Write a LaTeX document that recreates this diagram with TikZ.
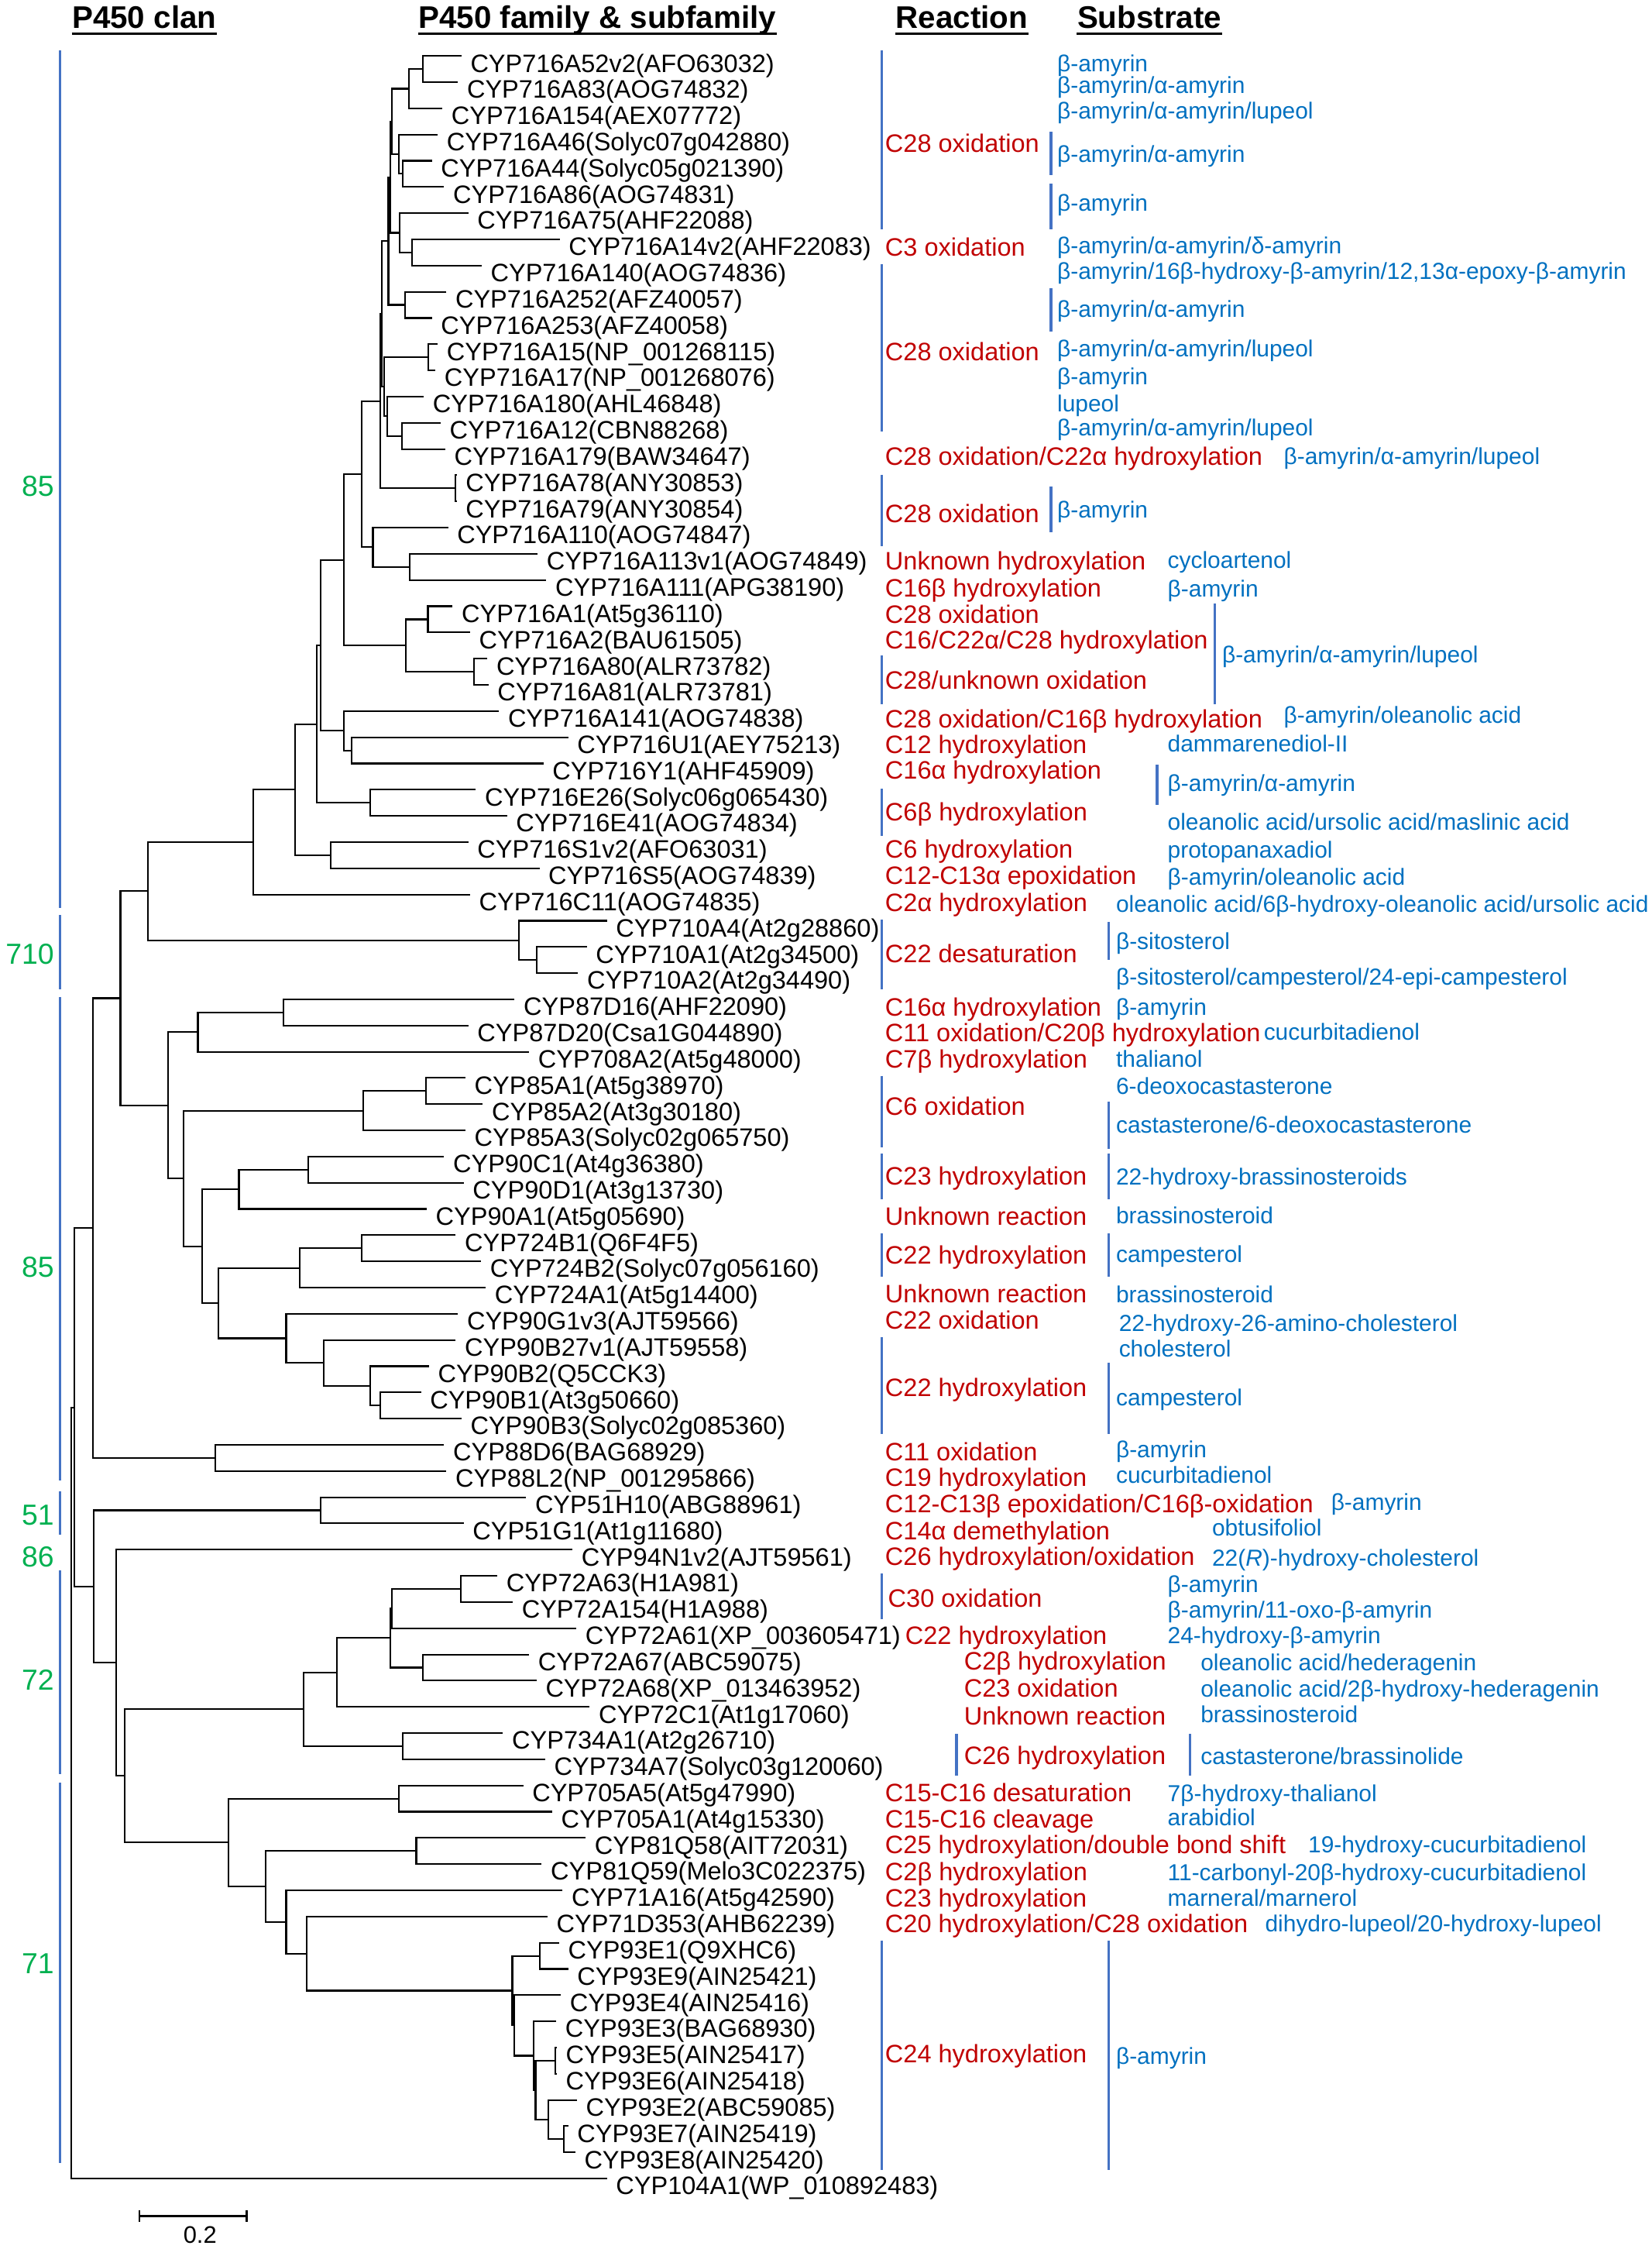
\documentclass[tikz,border=0pt]{standalone}
\usepackage{fontspec}
\setmainfont{Liberation Sans}
\usetikzlibrary{calc}

\definecolor{reactred}{RGB}{192,0,0}
\definecolor{subblue}{RGB}{0,112,192}
\definecolor{clangreen}{RGB}{0,176,80}
\definecolor{barblue}{RGB}{68,114,196}

\tikzset{
  branch/.style={line width=0.65pt,black},
  seq/.style={anchor=base west,inner sep=0pt,xshift=3.4pt,yshift=-6.4pt,font=\fontsize{10}{12}\selectfont},
  react/.style={anchor=base west,inner sep=0pt,yshift=-3.6pt,text=reactred,font=\fontsize{10}{12}\selectfont},
  subst/.style={anchor=base west,inner sep=0pt,yshift=-3.4pt,text=subblue,font=\fontsize{9.2}{11}\selectfont},
  bar/.style={line width=1pt,barblue},
  clan/.style={anchor=base east,inner sep=0pt,yshift=-4.1pt,text=clangreen,font=\fontsize{11.5}{13}\selectfont},
  header/.style={anchor=base west,inner sep=0pt,font=\bfseries\fontsize{12.4}{14}\selectfont},
}

\newcommand{\seqleaf}[3]{\coordinate (t#1) at (#2,{39+(#1-1)*18.27}); \node[seq] (s#1) at (t#1) {#3};}
\newcommand{\treeclade}[4]{\coordinate (#1m) at ($(#3)!0.5!(#4)$); \coordinate (#1) at (#2,0 |- #1m); \draw[branch] (#3) -| (#1) |- (#4);}

\begin{document}
\begin{tikzpicture}[x=0.02cm,y=-0.02cm]
\useasboundingbox (0,0) rectangle (1152,1568);

\node[header] (h1) at (50,19.8) {P450 clan};
\node[header] (h2) at (291.5,19.8) {P450 family \& subfamily};
\node[header] (h3) at (624.5,19.8) {Reaction};
\node[header] (h4) at (751,19.8) {Substrate};
\foreach \h in {h1,h2,h3,h4}
  \draw[line width=1pt] ([yshift=-2pt]\h.base west) -- ([yshift=-2pt]\h.base east);

\seqleaf{1}{321.8}{CYP716A52v2(AFO63032)}
\seqleaf{2}{319.4}{CYP716A83(AOG74832)}
\seqleaf{3}{308.5}{CYP716A154(AEX07772)}
\seqleaf{4}{305.3}{CYP716A46(Solyc07g042880)}
\seqleaf{5}{301.2}{CYP716A44(Solyc05g021390)}
\seqleaf{6}{309.7}{CYP716A86(AOG74831)}
\seqleaf{7}{326.6}{CYP716A75(AHF22088)}
\seqleaf{8}{390.3}{CYP716A14v2(AHF22083)}
\seqleaf{9}{335.9}{CYP716A140(AOG74836)}
\seqleaf{10}{311.3}{CYP716A252(AFZ40057)}
\seqleaf{11}{301.2}{CYP716A253(AFZ40058)}
\seqleaf{12}{305.3}{CYP716A15(NP\_001268115)}
\seqleaf{13}{303.7}{CYP716A17(NP\_001268076)}
\seqleaf{14}{295.6}{CYP716A180(AHL46848)}
\seqleaf{15}{307.3}{CYP716A12(CBN88268)}
\seqleaf{16}{310.5}{CYP716A179(BAW34647)}
\seqleaf{17}{318.5}{CYP716A78(ANY30853)}
\seqleaf{18}{318.5}{CYP716A79(ANY30854)}
\seqleaf{19}{312.5}{CYP716A110(AOG74847)}
\seqleaf{20}{375}{CYP716A113v1(AOG74849)}
\seqleaf{21}{381}{CYP716A111(APG38190)}
\seqleaf{22}{315.7}{CYP716A1(At5g36110)}
\seqleaf{23}{327.8}{CYP716A2(BAU61505)}
\seqleaf{24}{339.9}{CYP716A80(ALR73782)}
\seqleaf{25}{340.7}{CYP716A81(ALR73781)}
\seqleaf{26}{348}{CYP716A141(AOG74838)}
\seqleaf{27}{396.3}{CYP716U1(AEY75213)}
\seqleaf{28}{379}{CYP716Y1(AHF45909)}
\seqleaf{29}{331.9}{CYP716E26(Solyc06g065430)}
\seqleaf{30}{353.6}{CYP716E41(AOG74834)}
\seqleaf{31}{326.6}{CYP716S1v2(AFO63031)}
\seqleaf{32}{376.2}{CYP716S5(AOG74839)}
\seqleaf{33}{327.8}{CYP716C11(AOG74835)}
\seqleaf{34}{423.3}{CYP710A4(At2g28860)}
\seqleaf{35}{409.2}{CYP710A1(At2g34500)}
\seqleaf{36}{403.2}{CYP710A2(At2g34490)}
\seqleaf{37}{358.9}{CYP87D16(AHF22090)}
\seqleaf{38}{326.6}{CYP87D20(Csa1G044890)}
\seqleaf{39}{369}{CYP708A2(At5g48000)}
\seqleaf{40}{324.6}{CYP85A1(At5g38970)}
\seqleaf{41}{336.7}{CYP85A2(At3g30180)}
\seqleaf{42}{324.6}{CYP85A3(Solyc02g065750)}
\seqleaf{43}{309.7}{CYP90C1(At4g36380)}
\seqleaf{44}{323.4}{CYP90D1(At3g13730)}
\seqleaf{45}{297.6}{CYP90A1(At5g05690)}
\seqleaf{46}{317.8}{CYP724B1(Q6F4F5)}
\seqleaf{47}{335.5}{CYP724B2(Solyc07g056160)}
\seqleaf{48}{338.7}{CYP724A1(At5g14400)}
\seqleaf{49}{319.4}{CYP90G1v3(AJT59566)}
\seqleaf{50}{317.8}{CYP90B27v1(AJT59558)}
\seqleaf{51}{299.2}{CYP90B2(Q5CCK3)}
\seqleaf{52}{293.6}{CYP90B1(At3g50660)}
\seqleaf{53}{321.8}{CYP90B3(Solyc02g085360)}
\seqleaf{54}{309.7}{CYP88D6(BAG68929)}
\seqleaf{55}{311.3}{CYP88L2(NP\_001295866)}
\seqleaf{56}{366.9}{CYP51H10(ABG88961)}
\seqleaf{57}{323.4}{CYP51G1(At1g11680)}
\seqleaf{58}{399.2}{CYP94N1v2(AJT59561)}
\seqleaf{59}{346.8}{CYP72A63(H1A981)}
\seqleaf{60}{357.6}{CYP72A154(H1A988)}
\seqleaf{61}{402}{CYP72A61(XP\_003605471)}
\seqleaf{62}{369}{CYP72A67(ABC59075)}
\seqleaf{63}{374.2}{CYP72A68(XP\_013463952)}
\seqleaf{64}{411.2}{CYP72C1(At1g17060)}
\seqleaf{65}{350.8}{CYP734A1(At2g26710)}
\seqleaf{66}{380.2}{CYP734A7(Solyc03g120060)}
\seqleaf{67}{364.9}{CYP705A5(At5g47990)}
\seqleaf{68}{385.1}{CYP705A1(At4g15330)}
\seqleaf{69}{408.4}{CYP81Q58(AIT72031)}
\seqleaf{70}{377.8}{CYP81Q59(Melo3C022375)}
\seqleaf{71}{392.3}{CYP71A16(At5g42590)}
\seqleaf{72}{381.8}{CYP71D353(AHB62239)}
\seqleaf{73}{389.9}{CYP93E1(Q9XHC6)}
\seqleaf{74}{396.3}{CYP93E9(AIN25421)}
\seqleaf{75}{391.1}{CYP93E4(AIN25416)}
\seqleaf{76}{387.9}{CYP93E3(BAG68930)}
\seqleaf{77}{388.3}{CYP93E5(AIN25417)}
\seqleaf{78}{388.3}{CYP93E6(AIN25418)}
\seqleaf{79}{402.4}{CYP93E2(ABC59085)}
\seqleaf{80}{396.3}{CYP93E7(AIN25419)}
\seqleaf{81}{401.2}{CYP93E8(AIN25420)}
\seqleaf{82}{423.3}{CYP104A1(WP\_010892483)}

\treeclade{nA}{295.1}{t1}{t2}
\treeclade{nB}{285.3}{nA}{t3}
\treeclade{nC}{280.8}{t5}{t6}
\treeclade{nD}{278.1}{t4}{nC}
\treeclade{nEa}{273.3}{nB}{nD}
\treeclade{nFa}{287.5}{t8}{t9}
\treeclade{nF}{278.7}{t7}{nFa}
\treeclade{nEb}{272.2}{nEa}{nF}
\treeclade{nG}{282.6}{t10}{t11}
\treeclade{nE}{270.9}{nEb}{nG}
\treeclade{nIa}{298.5}{t12}{t13}
\treeclade{nHa}{280.2}{t15}{t16}
\treeclade{nH}{270.2}{t14}{nHa}
\treeclade{nI}{267.9}{nIa}{nH}
\treeclade{nJa}{266.1}{nE}{nI}
\treeclade{nK}{317.5}{t17}{t18}
\treeclade{nJ}{265.3}{nJa}{nK}
\treeclade{nN}{285.5}{t20}{t21}
\treeclade{nM}{260.1}{t19}{nN}
\treeclade{nL}{252.0}{nJ}{nM}
\treeclade{nP}{298.4}{t22}{t23}
\treeclade{nQ}{330.6}{t24}{t25}
\treeclade{nO}{283.1}{nP}{nQ}
\treeclade{nR}{240.0}{nL}{nO}
\treeclade{nT}{245.2}{t27}{t28}
\treeclade{nS}{240.0}{t26}{nT}
\treeclade{nUa}{223.8}{nR}{nS}
\treeclade{nV}{258.1}{t29}{t30}
\treeclade{nU}{221.0}{nUa}{nV}
\treeclade{nX}{230.7}{t31}{t32}
\treeclade{nW}{205.7}{nU}{nX}
\treeclade{nY}{176.7}{nW}{t33}
\treeclade{nAB}{374.1}{t35}{t36}
\treeclade{nAA}{362.0}{t34}{nAB}
\treeclade{nZ}{103.3}{nY}{nAA}
\treeclade{nAG}{197.6}{t37}{t38}
\treeclade{nAE}{138.0}{nAG}{t39}
\treeclade{nAJ}{297.2}{t40}{t41}
\treeclade{nAH}{253.2}{nAJ}{t42}
\treeclade{nAM}{215.0}{t43}{t44}
\treeclade{nAK}{166.6}{nAM}{t45}
\treeclade{nAP}{252.0}{t46}{t47}
\treeclade{nAN}{208.9}{nAP}{t48}
\treeclade{nAS}{265.3}{t52}{t53}
\treeclade{nAR}{258.1}{t51}{nAS}
\treeclade{nAQ}{225.8}{t50}{nAR}
\treeclade{nAO}{199.6}{t49}{nAQ}
\treeclade{nAL}{152.5}{nAN}{nAO}
\treeclade{nAI}{141.2}{nAK}{nAL}
\treeclade{nAF}{127.9}{nAH}{nAI}
\treeclade{nAD}{117.0}{nAE}{nAF}
\treeclade{nAC}{84.0}{nZ}{nAD}
\treeclade{nBB}{150.1}{t54}{t55}
\treeclade{nBA}{64.6}{nAC}{nBB}
\treeclade{nBE}{223.8}{t56}{t57}
\treeclade{nBM}{321.3}{t59}{t60}
\treeclade{nBLa}{273.4}{nBM}{t61}
\treeclade{nBN}{295.1}{t62}{t63}
\treeclade{nBL}{272.2}{nBLa}{nBN}
\treeclade{nBJ}{235.1}{nBL}{t64}
\treeclade{nBK}{281.0}{t65}{t66}
\treeclade{nBH}{211.7}{nBJ}{nBK}
\treeclade{nBO}{278.2}{t67}{t68}
\treeclade{nBQ}{290.3}{t69}{t70}
\treeclade{nBU}{376.3}{t73}{t74}
\treeclade{nBY}{387.5}{t77}{t78}
\treeclade{nBZ}{393.4}{t80}{t81}
\treeclade{nBX}{382.6}{t79}{nBZ}
\treeclade{nBVa}{373.5}{nBY}{nBX}
\treeclade{nBV}{372.3}{t76}{nBVa}
\treeclade{nBTa}{358.6}{t75}{nBV}
\treeclade{nBT}{357.3}{nBU}{nBTa}
\treeclade{nBS}{213.7}{t72}{nBT}
\treeclade{nBR}{199.6}{t71}{nBS}
\treeclade{nBP}{185.5}{nBQ}{nBR}
\treeclade{nBI}{159.3}{nBO}{nBP}
\treeclade{nBG}{86.8}{nBH}{nBI}
\treeclade{nBF}{80.8}{t58}{nBG}
\treeclade{nBD}{65.4}{nBE}{nBF}
\treeclade{nBC}{52.0}{nBA}{nBD}
\treeclade{root}{49.7}{nBC}{t82}

\draw[bar] (42,35) -- (42,633);
\draw[bar] (42,638) -- (42,690);
\draw[bar] (42,695) -- (42,1032);
\draw[bar] (42,1040) -- (42,1070);
\draw[bar] (42,1095) -- (42,1237);
\draw[bar] (42,1243) -- (42,1508);
\node[clan] (c1) at (38,339) {85};
\node[clan] (c2) at (38,665) {710};
\node[clan] (c3) at (38,883) {85};
\node[clan] (c4) at (38,1056) {51};
\node[clan] (c5) at (38,1085) {86};
\node[clan] (c6) at (38,1171) {72};
\node[clan] (c7) at (38,1369) {71};

\draw[bar] (615,35) -- (615,160);
\draw[bar] (615,184) -- (615,301);
\draw[bar] (615,331) -- (615,381);
\draw[bar] (615,457) -- (615,491);
\draw[bar] (615,550) -- (615,583);
\draw[bar] (615,641) -- (615,690);
\draw[bar] (615,750) -- (615,800);
\draw[bar] (615,804) -- (615,836);
\draw[bar] (615,860) -- (615,890);
\draw[bar] (615,932) -- (615,1000);
\draw[bar] (615,1097) -- (615,1129);
\draw[bar] (667,1209) -- (667,1238);
\draw[bar] (615,1353) -- (615,1513);

\node[react] (r1) at (617,100) {C28 oxidation};
\node[react] (r2) at (617,172) {C3 oxidation};
\node[react] (r3) at (617,245) {C28 oxidation};
\node[react] (r4) at (617,318) {C28 oxidation/C22α hydroxylation};
\node[react] (r5) at (617,358) {C28 oxidation};
\node[react] (r6) at (617,391) {Unknown hydroxylation};
\node[react] (r7) at (617,410) {C16β hydroxylation};
\node[react] (r8) at (617,428) {C28 oxidation};
\node[react] (r9) at (617,446) {C16/C22α/C28 hydroxylation};
\node[react] (r10) at (617,474) {C28/unknown oxidation};
\node[react] (r11) at (617,501) {C28 oxidation/C16β hydroxylation};
\node[react] (r12) at (617,519) {C12 hydroxylation};
\node[react] (r13) at (617,537) {C16α hydroxylation};
\node[react] (r14) at (617,566) {C6β hydroxylation};
\node[react] (r15) at (617,592) {C6 hydroxylation};
\node[react] (r16) at (617,610) {C12-C13α epoxidation};
\node[react] (r17) at (617,629) {C2α hydroxylation};
\node[react] (r18) at (617,665) {C22 desaturation};
\node[react] (r19) at (617,702) {C16α hydroxylation};
\node[react] (r20) at (617,720) {C11 oxidation/C20β hydroxylation};
\node[react] (r21) at (617,738) {C7β hydroxylation};
\node[react] (r22) at (617,771) {C6 oxidation};
\node[react] (r23) at (617,820) {C23 hydroxylation};
\node[react] (r24) at (617,848) {Unknown reaction};
\node[react] (r25) at (617,875) {C22 hydroxylation};
\node[react] (r26) at (617,902) {Unknown reaction};
\node[react] (r27) at (617,920) {C22 oxidation};
\node[react] (r28) at (617,967) {C22 hydroxylation};
\node[react] (r29) at (617,1012) {C11 oxidation};
\node[react] (r30) at (617,1030) {C19 hydroxylation};
\node[react] (r31) at (617,1048) {C12-C13β epoxidation/C16β-oxidation};
\node[react] (r32) at (617,1067) {C14α demethylation};
\node[react] (r33) at (617,1085) {C26 hydroxylation/oxidation};
\node[react] (r34) at (619,1114) {C30 oxidation};
\node[react] (r35) at (631,1140) {C22 hydroxylation};
\node[react] (r36) at (672,1158) {C2β hydroxylation};
\node[react] (r37) at (672,1177) {C23 oxidation};
\node[react] (r38) at (672,1196) {Unknown reaction};
\node[react] (r39) at (672,1224) {C26 hydroxylation};
\node[react] (r40) at (617,1250) {C15-C16 desaturation};
\node[react] (r41) at (617,1268) {C15-C16 cleavage};
\node[react] (r42) at (617,1286) {C25 hydroxylation/double bond shift};
\node[react] (r43) at (617,1305) {C2β hydroxylation};
\node[react] (r44) at (617,1323) {C23 hydroxylation};
\node[react] (r45) at (617,1341) {C20 hydroxylation/C28 oxidation};
\node[react] (r46) at (617,1432) {C24 hydroxylation};

\draw[bar] (733,92) -- (733,122);
\draw[bar] (733,128) -- (733,160);
\draw[bar] (733,201) -- (733,231);
\draw[bar] (733,339) -- (733,371);
\draw[bar] (847,421) -- (847,491);
\draw[bar] (807,533) -- (807,561);
\draw[bar] (773,643) -- (773,669);
\draw[bar] (773,768) -- (773,801);
\draw[bar] (773,804) -- (773,836);
\draw[bar] (773,860) -- (773,890);
\draw[bar] (773,950) -- (773,1000);
\draw[bar] (830,1209) -- (830,1238);
\draw[bar] (773,1353) -- (773,1513);

\node[subst] (b1) at (737,44) {β-amyrin};
\node[subst] (b2) at (737,59) {β-amyrin/α-amyrin};
\node[subst] (b3) at (737,77) {β-amyrin/α-amyrin/lupeol};
\node[subst] (b4) at (737,107) {β-amyrin/α-amyrin};
\node[subst] (b5) at (737,141) {β-amyrin};
\node[subst] (b6) at (737,171) {β-amyrin/α-amyrin/δ-amyrin};
\node[subst] (b7) at (737,189) {β-amyrin/16β-hydroxy-β-amyrin/12,13α-epoxy-β-amyrin};
\node[subst] (b8) at (737,215) {β-amyrin/α-amyrin};
\node[subst] (b9) at (737,243) {β-amyrin/α-amyrin/lupeol};
\node[subst] (b10) at (737,262) {β-amyrin};
\node[subst] (b11) at (737,281) {lupeol};
\node[subst] (b12) at (737,298) {β-amyrin/α-amyrin/lupeol};
\node[subst] (b13) at (895,318) {β-amyrin/α-amyrin/lupeol};
\node[subst] (b14) at (737,355) {β-amyrin};
\node[subst] (b15) at (814,390) {cycloartenol};
\node[subst] (b16) at (814,410) {β-amyrin};
\node[subst] (b17) at (852,456) {β-amyrin/α-amyrin/lupeol};
\node[subst] (b18) at (895,498) {β-amyrin/oleanolic acid};
\node[subst] (b19) at (814,518) {dammarenediol-II};
\node[subst] (b20) at (814,546) {β-amyrin/α-amyrin};
\node[subst] (b21) at (814,573) {oleanolic acid/ursolic acid/maslinic acid};
\node[subst] (b22) at (814,592) {protopanaxadiol};
\node[subst] (b23) at (814,611) {β-amyrin/oleanolic acid};
\node[subst] (b24) at (778,630) {oleanolic acid/6β-hydroxy-oleanolic acid/ursolic acid};
\node[subst] (b25) at (778,656) {β-sitosterol};
\node[subst] (b26) at (778,681) {β-sitosterol/campesterol/24-epi-campesterol};
\node[subst] (b27) at (778,702) {β-amyrin};
\node[subst] (b28) at (881,719) {cucurbitadienol};
\node[subst] (b29) at (778,738) {thalianol};
\node[subst] (b30) at (778,757) {6-deoxocastasterone};
\node[subst] (b31) at (778,784) {castasterone/6-deoxocastasterone};
\node[subst] (b32) at (778,820) {22-hydroxy-brassinosteroids};
\node[subst] (b33) at (778,847) {brassinosteroid};
\node[subst] (b34) at (778,874) {campesterol};
\node[subst] (b35) at (778,902) {brassinosteroid};
\node[subst] (b36) at (780,922) {22-hydroxy-26-amino-cholesterol};
\node[subst] (b37) at (780,940) {cholesterol};
\node[subst] (b38) at (778,974) {campesterol};
\node[subst] (b39) at (778,1010) {β-amyrin};
\node[subst] (b40) at (778,1028) {cucurbitadienol};
\node[subst] (b41) at (928,1047) {β-amyrin};
\node[subst] (b42) at (845,1065) {obtusifoliol};
\node[subst] (b43) at (845,1086) {22(\textit{R})-hydroxy-cholesterol};
\node[subst] (b44) at (814,1104) {β-amyrin};
\node[subst] (b45) at (814,1122) {β-amyrin/11-oxo-β-amyrin};
\node[subst] (b46) at (814,1140) {24-hydroxy-β-amyrin};
\node[subst] (b47) at (837,1159) {oleanolic acid/hederagenin};
\node[subst] (b48) at (837,1177) {oleanolic acid/2β-hydroxy-hederagenin};
\node[subst] (b49) at (837,1195) {brassinosteroid};
\node[subst] (b50) at (837,1224) {castasterone/brassinolide};
\node[subst] (b51) at (814,1250) {7β-hydroxy-thalianol};
\node[subst] (b52) at (814,1267) {arabidiol};
\node[subst] (b53) at (912,1286) {19-hydroxy-cucurbitadienol};
\node[subst] (b54) at (814,1305) {11-carbonyl-20β-hydroxy-cucurbitadienol};
\node[subst] (b55) at (814,1323) {marneral/marnerol};
\node[subst] (b56) at (882,1341) {dihydro-lupeol/20-hydroxy-lupeol};
\node[subst] (b57) at (778,1433) {β-amyrin};

\coordinate (sbl) at (97,1545);
\coordinate (sbr) at (172,1545);
\draw[branch] (sbl) -- (sbr);
\draw[branch] ([yshift=-0.08cm]sbl) -- ([yshift=0.08cm]sbl);
\draw[branch] ([yshift=-0.08cm]sbr) -- ([yshift=0.08cm]sbr);
\node[font=\fontsize{9.5}{11}\selectfont,anchor=base,inner sep=0pt,yshift=-3.4pt] (sbt) at (139.5,1558) {0.2};
\end{tikzpicture}
\end{document}
